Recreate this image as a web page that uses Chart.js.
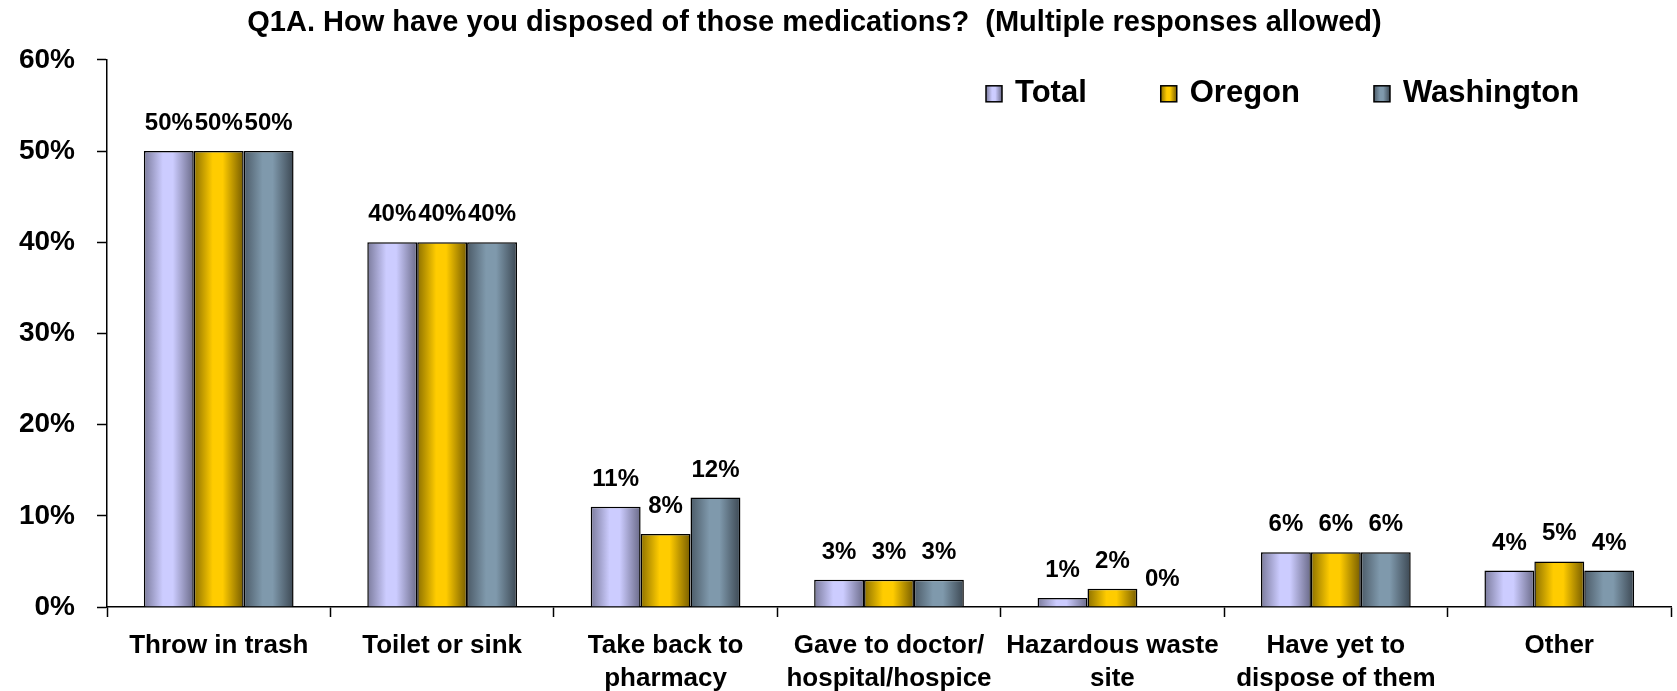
<!DOCTYPE html>
<html>
<head>
<meta charset="utf-8">
<script src="https://cdn.jsdelivr.net/npm/chart.js@4.4.0/dist/chart.umd.min.js"></script>
<style>
html,body{margin:0;padding:0;background:#fff;}
#wrap{width:1677px;height:691px;}
</style>
</head>
<body>
<div id="wrap"><canvas id="c" width="1677" height="691"></canvas></div>
<script>
const titleText = "Q1A. How have you disposed of those medications?  (Multiple responses allowed)";
const categories = [
  ["Throw in trash"],
  ["Toilet or sink"],
  ["Take back to", "pharmacy"],
  ["Gave to doctor/", "hospital/hospice"],
  ["Hazardous waste", "site"],
  ["Have yet to", "dispose of them"],
  ["Other"]
];
const seriesNames = ["Total", "Oregon", "Washington"];
const totalValues = [50, 40, 11, 3, 1, 6, 4];
const oregonValues = [50, 40, 8, 3, 2, 6, 5];
const washingtonValues = [50, 40, 12, 3, 0, 6, 4];
const yTickValues = [0, 10, 20, 30, 40, 50, 60];

const FONT = '"Liberation Sans", Arial, Helvetica, sans-serif';
const BAR_FRACTION = 0.67;
const shades = [
  ['#7b7b9c', '#ccccff', '#6a6a88'],
  ['#8c7000', '#ffcc00', '#765c00'],
  ['#4c5b68', '#7f99ac', '#3c4853']
];

function makeGradient(ctx, left, width, s) {
  const g = ctx.createLinearGradient(left, 0, left + width, 0);
  g.addColorStop(0, s[0]);
  g.addColorStop(0.38, s[1]);
  g.addColorStop(0.58, s[1]);
  g.addColorStop(1, s[2]);
  return g;
}

function barFill(di) {
  return function (c) {
    const ch = c.chart, xs = ch.scales && ch.scales.x;
    if (!xs || c.dataIndex === undefined || !ch.chartArea) return shades[di][1];
    const n = ch.data.labels.length;
    const cw = (xs.right - xs.left) / n;
    const bw = cw * BAR_FRACTION / 3;
    const center = xs.getPixelForValue(c.dataIndex);
    const left = center - 1.5 * bw + di * bw;
    return makeGradient(ch.ctx, left, bw, shades[di]);
  };
}

const valueLabels = {
  id: 'valueLabels',
  afterDatasetsDraw(chart) {
    const ctx = chart.ctx;
    ctx.save();
    ctx.font = 'bold 24px ' + FONT;
    ctx.fillStyle = '#000';
    ctx.textAlign = 'center';
    ctx.textBaseline = 'alphabetic';
    chart.data.datasets.forEach((ds, di) => {
      const meta = chart.getDatasetMeta(di);
      meta.data.forEach((el, i) => {
        ctx.fillText(ds.data[i] + '%', el.x, el.y - 21);
      });
    });
    ctx.restore();
  }
};

const customLegend = {
  id: 'customLegend',
  afterDraw(chart) {
    const ctx = chart.ctx;
    ctx.save();
    ctx.font = 'bold 31px ' + FONT;
    ctx.textBaseline = 'alphabetic';
    ctx.textAlign = 'left';
    let x = chart.chartArea.left + 879;
    const top = chart.chartArea.top + 26;
    chart.data.datasets.forEach((ds, di) => {
      ctx.fillStyle = makeGradient(ctx, x, 16, shades[di]);
      ctx.fillRect(x, top, 16, 16);
      ctx.lineWidth = 1.5;
      ctx.strokeStyle = '#000';
      ctx.strokeRect(x, top, 16, 16);
      ctx.fillStyle = '#000';
      const tx = x + 29;
      ctx.fillText(ds.label, tx, top + 16);
      x = tx + ctx.measureText(ds.label).width + 74;
    });
    ctx.restore();
  }
};

const titleShift = {
  id: 'titleShift',
  afterLayout(chart) {
    const t = chart.titleBlock;
    if (t) { t.left = 0; t.right = chart.width - 48; }
  }
};

const valueSets = [totalValues, oregonValues, washingtonValues];

new Chart(document.getElementById('c'), {
  type: 'bar',
  data: {
    labels: categories,
    datasets: seriesNames.map((name, di) => ({
      label: name,
      data: valueSets[di],
      backgroundColor: barFill(di),
      borderColor: '#000',
      borderWidth: 1.5,
      categoryPercentage: BAR_FRACTION,
      barPercentage: 1
    }))
  },
  options: {
    responsive: false,
    devicePixelRatio: 1,
    animation: false,
    layout: { padding: { left: 0, right: 6, top: 0, bottom: 0 } },
    plugins: {
      legend: { display: false },
      tooltip: { enabled: false },
      title: {
        display: true,
        text: titleText,
        color: '#000',
        font: { family: FONT, size: 29, weight: 'bold', lineHeight: 1.2 },
        padding: { top: 6, bottom: 19 }
      }
    },
    scales: {
      x: {
        grid: { display: true, drawOnChartArea: false, offset: true, color: '#000', tickLength: 10, tickWidth: 1.5 },
        border: { display: true, color: '#000', width: 1.5 },
        ticks: {
          color: '#000',
          padding: 12,
          maxRotation: 0,
          autoSkip: false,
          font: { family: FONT, size: 26, weight: 'bold', lineHeight: 33 / 26 }
        },
        afterFit(scale) { scale.height = 84; }
      },
      y: {
        min: 0,
        max: 60,
        afterBuildTicks(scale) { scale.ticks = yTickValues.map(v => ({ value: v })); },
        grid: { display: true, drawOnChartArea: false, color: '#000', tickLength: 10, tickWidth: 1.5 },
        border: { display: true, color: '#000', width: 1.5 },
        ticks: {
          color: '#000',
          padding: 22,
          font: { family: FONT, size: 28, weight: 'bold' },
          callback: v => v + '%'
        },
        afterFit(scale) { scale.width = 107; }
      }
    }
  },
  plugins: [valueLabels, customLegend, titleShift]
});
</script>
</body>
</html>
